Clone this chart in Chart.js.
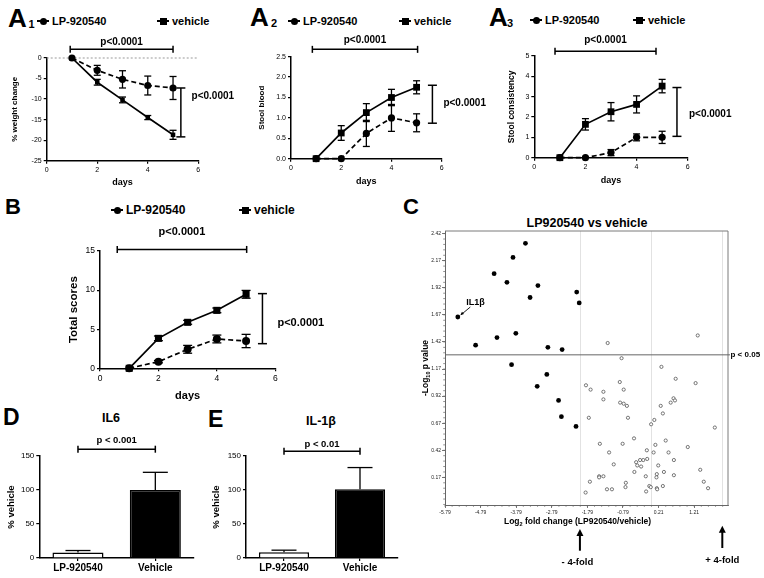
<!DOCTYPE html>
<html>
<head>
<meta charset="utf-8">
<script src="https://cdn.jsdelivr.net/npm/chart.js@4.4.1/dist/chart.umd.min.js"></script>
<style>
html, body { margin: 0; padding: 0; background: #fff; }
body { width: 764px; height: 578px; position: relative; overflow: hidden; font-family: 'Liberation Sans', Arial, Helvetica, sans-serif; color: #000; }
canvas { position: absolute; }
.t { position: absolute; font-weight: bold; white-space: nowrap; line-height: 1; }
.leg { position: absolute; font-weight: bold; white-space: nowrap; line-height: 1; display: flex; align-items: center; }
.mk { position: relative; display: inline-block; width: 12px; height: 2px; background: #000; margin-right: 3px; }
.mk::after { content: ""; position: absolute; left: 50%; top: 50%; width: 7px; height: 7px; margin: -3.5px 0 0 -3.5px; background: #000; }
.mk.c::after { border-radius: 50%; }
</style>
</head>
<body>
<script>
const FONT = "'Liberation Sans', Arial, Helvetica, sans-serif";
Chart.defaults.font.family = FONT;
Chart.defaults.color = '#000';

// ---- data ----
const days = [1, 2, 3, 4, 5];

const weightLP = [0, -3.0, -5.2, -6.7, -7.3];
const weightLPErr = [0, 1.2, 2.1, 2.3, 2.8];
const weightVeh = [0, -5.9, -10.2, -14.5, -18.7];
const weightVehErr = [0, 0.7, 0.7, 0.5, 1.1];

const bloodLP = [0, 0, 0.62, 1.0, 0.88];
const bloodLPErr = [0, 0, 0.32, 0.33, 0.22];
const bloodVeh = [0, 0.63, 1.13, 1.5, 1.75];
const bloodVehErr = [0, 0.18, 0.22, 0.2, 0.16];

const consLP = [0, 0, 0.25, 1.0, 1.0];
const consLPErr = [0, 0, 0.15, 0.17, 0.3];
const consVeh = [0, 1.64, 2.26, 2.62, 3.52];
const consVehErr = [0, 0.28, 0.45, 0.42, 0.33];

const totalLP = [0, 0.85, 2.43, 3.75, 3.49];
const totalLPErr = [0, 0.15, 0.5, 0.5, 0.85];
const totalVeh = [0, 3.83, 5.88, 7.41, 9.46];
const totalVehErr = [0, 0.3, 0.25, 0.3, 0.5];

const cytoGroups = ['LP-920540', 'Vehicle'];
const il6Values = [8, 100];
const il6Errors = [3, 26];
const il1bValues = [8.5, 101];
const il1bErrors = [3, 32];

const volcanoXTicks = [-5.79, -4.79, -3.79, -2.79, -1.79, -0.79, 0.21, 1.21];
const volcanoYTicks = [0.17, 0.42, 0.67, 0.92, 1.17, 1.42, 1.67, 1.92, 2.17, 2.42];
const foldLines = [-2, 0, 2];
const pCut = 1.301;

// filled = changed genes (first one is IL1b)
const sigX = [-5.43, -4.93, -4.33, -3.80, -4.41, -4.05, -3.88, -3.53, -3.18, -3.40,
  -2.90, -2.50, -2.09, -2.02, -3.92, -3.20, -2.93, -2.60, -2.52, -2.11];
const sigY = [1.65, 1.39, 1.46, 1.50, 2.05, 1.97, 2.20, 2.33, 1.94, 1.83,
  1.37, 1.35, 1.88, 1.78, 1.21, 1.01, 1.12, 0.88, 0.73, 0.64];

const nsX = [-1.22, 1.31, -0.83, 0.29, 0.69, 1.25, -1.83, -1.70, -0.88, -0.77,
  -1.34, -1.34, -0.87, -0.77, -0.68, 0.27, 0.55, 0.63, 0.67, 0.33,
  -1.75, -0.65, 0.09, 0.00, 1.79, -0.48, 0.41, -1.44, -0.80, 0.12,
  1.03, -0.12, -1.18, 0.07, 0.49, -0.31, -0.22, -0.11, -0.42, -0.39,
  -0.28, 0.64, -1.05, 0.20, 1.38, -0.47, 0.36, -1.46, -1.46, -1.34,
  -0.15, 0.16, 0.15, 0.64, -1.72, -0.71, 1.48, -0.72, -0.05, -0.01,
  0.16, 0.33, -1.24, -1.10, -0.14, 0.17, 1.60, -1.84];
const nsY = [1.41, 1.48, 1.27, 1.19, 1.08, 1.04, 1.02, 0.98, 1.05, 0.98,
  0.96, 0.89, 0.86, 0.85, 0.83, 0.83, 0.86, 0.90, 0.88, 0.76,
  0.72, 0.72, 0.70, 0.66, 0.63, 0.53, 0.51, 0.48, 0.48, 0.47,
  0.45, 0.42, 0.40, 0.40, 0.40, 0.33, 0.33, 0.34, 0.31, 0.28,
  0.27, 0.33, 0.29, 0.28, 0.24, 0.22, 0.22, 0.18, 0.17, 0.18,
  0.18, 0.20, 0.17, 0.19, 0.13, 0.12, 0.13, 0.08, 0.09, 0.08,
  0.07, 0.09, 0.06, 0.06, 0.04, 0.06, 0.07, 0.03];

// ---- helpers ----
function seg(ctx, x1, y1, x2, y2) {
  ctx.beginPath(); ctx.moveTo(x1, y1); ctx.lineTo(x2, y2); ctx.stroke();
}

function place(html, x, baseline, size, center) {
  const d = document.createElement('div');
  d.className = 't';
  d.style.fontSize = size + 'px';
  d.style.left = x + 'px';
  d.style.top = (baseline - 0.8465 * size) + 'px';
  if (center) d.style.transform = 'translateX(-50%)';
  d.innerHTML = html;
  document.body.appendChild(d);
}

function legendItem(text, x, cy, size, shape) {
  const d = document.createElement('div');
  d.className = 'leg';
  d.style.left = x + 'px';
  d.style.top = (cy - size / 2) + 'px';
  d.style.height = size + 'px';
  d.style.fontSize = size + 'px';
  d.innerHTML = '<span class="mk ' + shape + '"></span>' + text;
  document.body.appendChild(d);
}

function makeCanvas(box) {
  const c = document.createElement('canvas');
  c.width = box[2];
  c.height = box[3];
  c.style.left = box[0] + 'px';
  c.style.top = box[1] + 'px';
  document.body.appendChild(c);
  return c;
}

const errorBars = {
  id: 'errorBars',
  afterDatasetsDraw(chart) {
    const { ctx } = chart;
    const ys = chart.scales.y;
    chart.data.datasets.forEach((ds, i) => {
      if (!ds.errors) return;
      const meta = chart.getDatasetMeta(i);
      ctx.save();
      ctx.strokeStyle = '#000';
      ctx.lineWidth = 1.3;
      meta.data.forEach((pt, j) => {
        const e = ds.errors[j];
        if (!e) return;
        const raw = ds.data[j];
        const v = typeof raw === 'number' ? raw : raw.y;
        const hi = ys.getPixelForValue(v + e);
        const lo = ys.getPixelForValue(ds.upOnly ? v : v - e);
        seg(ctx, pt.x, hi, pt.x, lo);
        seg(ctx, pt.x - ds.cap, hi, pt.x + ds.cap, hi);
        if (!ds.upOnly) seg(ctx, pt.x - ds.cap, lo, pt.x + ds.cap, lo);
      });
      ctx.restore();
    });
  }
};

// significance brackets, in data coordinates
function sigMarks(o) {
  return {
    id: 'sig',
    beforeDatasetsDraw(chart) {
      if (!o.zero) return;
      const { ctx, chartArea: a, scales: { y } } = chart;
      const py = y.getPixelForValue(0);
      ctx.save();
      ctx.strokeStyle = '#9a9a9a';
      ctx.lineWidth = 1;
      ctx.setLineDash([2, 2]);
      seg(ctx, a.left, py, a.right, py);
      ctx.restore();
    },
    afterDraw(chart) {
      const { ctx, scales: { x, y } } = chart;
      ctx.save();
      ctx.strokeStyle = '#000';
      ctx.fillStyle = '#000';
      ctx.lineWidth = 1.5;
      ctx.font = 'bold ' + o.size + 'px ' + FONT;
      ctx.textBaseline = 'alphabetic';
      if (o.top) {
        const p1 = x.getPixelForValue(o.top[0]);
        const p2 = x.getPixelForValue(o.top[1]);
        const py = y.getPixelForValue(o.top[2]);
        seg(ctx, p1, py, p2, py);
        seg(ctx, p1, py - 3.5, p1, py + 3.5);
        seg(ctx, p2, py - 3.5, p2, py + 3.5);
        ctx.textAlign = 'center';
        ctx.fillText(o.text, (p1 + p2) / 2, py + o.topDy);
      }
      if (o.side) {
        const px = x.getPixelForValue(o.side[0]);
        const q1 = y.getPixelForValue(o.side[1]);
        const q2 = y.getPixelForValue(o.side[2]);
        seg(ctx, px, q1, px, q2);
        seg(ctx, px - 4.5, q1, px + 4.5, q1);
        seg(ctx, px - 4.5, q2, px + 4.5, q2);
        ctx.textAlign = 'left';
        ctx.fillText(o.text, px + o.sideDx, (q1 + q2) / 2 + o.sideDy);
      }
      ctx.restore();
    }
  };
}

function axisStyle(size) {
  return {
    grid: { display: true, drawOnChartArea: false, drawTicks: true, tickLength: 3, color: '#000', lineWidth: 1.2 },
    border: { display: true, color: '#000', width: 1.5 },
    ticks: { font: { size: size }, padding: 2, maxRotation: 0, color: '#000' }
  };
}

// line panel: box = canvas rect on page, area = wanted plot rect on page
function linePanel(p) {
  const [bl, bt, bw, bh] = p.box;
  const [al, at, ar, ab] = p.area;
  const xs = axisStyle(p.tick);
  const ysd = axisStyle(p.tick);
  return new Chart(makeCanvas(p.box), {
    type: 'line',
    data: {
      datasets: [
        {
          label: 'LP-920540',
          data: days.map((d, i) => ({ x: d, y: p.lp[i] })),
          errors: p.lpErr, cap: p.cap,
          borderColor: '#000', borderWidth: 1.7, borderDash: [5, 3],
          pointStyle: 'circle', pointRadius: p.dot, pointBorderWidth: 0,
          pointBackgroundColor: '#000', tension: 0, clip: false
        },
        {
          label: 'vehicle',
          data: days.map((d, i) => ({ x: d, y: p.veh[i] })),
          errors: p.vehErr, cap: p.cap,
          borderColor: '#000', borderWidth: 1.7,
          pointStyle: 'rect', pointRadius: p.sq, pointBorderWidth: 0,
          pointBackgroundColor: '#000', tension: 0, clip: false
        }
      ]
    },
    options: {
      responsive: false,
      animation: false,
      devicePixelRatio: 1,
      layout: { padding: { left: 0, top: at - bt, right: bl + bw - ar, bottom: 0 } },
      plugins: { legend: { display: false }, tooltip: { enabled: false } },
      scales: {
        x: {
          type: 'linear', min: 0, max: 6,
          grid: xs.grid, border: xs.border,
          ticks: Object.assign(xs.ticks, { stepSize: 2 }),
          title: {
            display: true, text: 'days',
            font: { size: p.xtSize, weight: 'bold' },
            padding: { top: 0, bottom: bt + bh - p.xtY - p.xtSize * 0.6 }
          },
          afterFit(s) { s.height = bt + bh - ab; s.paddingLeft = 0; s.paddingRight = 0; }
        },
        y: {
          type: 'linear', min: p.yMin, max: p.yMax,
          grid: ysd.grid, border: ysd.border,
          ticks: Object.assign(ysd.ticks, { stepSize: p.yStep, callback: p.fmt }),
          title: {
            display: true, text: p.yTitle,
            font: { size: p.ytSize, weight: 'bold' },
            padding: { top: p.ytX - bl - p.ytSize * 0.6, bottom: 0 }
          },
          afterFit(s) { s.width = al - bl; s.paddingTop = 0; s.paddingBottom = 0; }
        }
      }
    },
    plugins: [errorBars, sigMarks(p.sig)]
  });
}

function barPanel(p) {
  const [bl, bt, bw, bh] = p.box;
  const [al, at, ar, ab] = p.area;
  const xs = axisStyle(10);
  const ysd = axisStyle(8);
  return new Chart(makeCanvas(p.box), {
    type: 'bar',
    data: {
      labels: cytoGroups,
      datasets: [{
        data: p.values, errors: p.errors, upOnly: true, cap: 12.5,
        backgroundColor: ['#fff', '#000'], borderColor: '#000', borderWidth: 1.5,
        barPercentage: 0.66, categoryPercentage: 1
      }]
    },
    options: {
      responsive: false,
      animation: false,
      devicePixelRatio: 1,
      layout: { padding: { left: 0, top: at - bt, right: bl + bw - ar, bottom: 0 } },
      plugins: { legend: { display: false }, tooltip: { enabled: false } },
      scales: {
        x: {
          grid: Object.assign(xs.grid, { offset: false }), border: xs.border,
          ticks: Object.assign(xs.ticks, { font: { size: 10, weight: 'bold' }, padding: 1 }),
          afterFit(s) { s.height = bt + bh - ab; s.paddingLeft = 0; s.paddingRight = 0; }
        },
        y: {
          min: 0, max: 150,
          grid: ysd.grid, border: ysd.border,
          ticks: Object.assign(ysd.ticks, { stepSize: 50 }),
          title: {
            display: true, text: '% vehicle',
            font: { size: 9.5, weight: 'bold' },
            padding: { top: p.ytX - bl - 9.5 * 0.6, bottom: 0 }
          },
          afterFit(s) { s.width = al - bl; s.paddingTop = 0; s.paddingBottom = 0; }
        }
      }
    },
    plugins: [errorBars, sigMarks(p.sig)]
  });
}

// text with subscripts, centred on x at baseline y
function subText(ctx, parts, x, y, size) {
  const big = 'bold ' + size + 'px ' + FONT;
  const small = 'bold ' + (size * 0.65).toFixed(1) + 'px ' + FONT;
  let w = 0;
  parts.forEach(([t, sub]) => { ctx.font = sub ? small : big; w += ctx.measureText(t).width; });
  let cx = x - w / 2;
  ctx.textAlign = 'left';
  parts.forEach(([t, sub]) => {
    ctx.font = sub ? small : big;
    ctx.fillText(t, cx, y + (sub ? size * 0.28 : 0));
    cx += ctx.measureText(t).width;
  });
}

const volcanoDecor = {
  id: 'volcanoDecor',
  beforeDatasetsDraw(chart) {
    const { ctx, chartArea: a, scales: { x, y } } = chart;
    ctx.save();
    ctx.lineWidth = 1;
    ctx.strokeStyle = '#e2e2e2';
    foldLines.forEach(v => {
      const px = Math.round(x.getPixelForValue(v)) + 0.5;
      seg(ctx, px, a.top, px, a.bottom);
    });
    ctx.strokeStyle = '#7a7a7a';
    ctx.beginPath();
    ctx.moveTo(a.left, a.top);
    ctx.lineTo(a.right, a.top);
    ctx.lineTo(a.right, a.bottom);
    ctx.stroke();
    const py = y.getPixelForValue(pCut);
    ctx.strokeStyle = '#666';
    seg(ctx, a.left, py, a.right + 2, py);
    ctx.restore();
  },
  afterDraw(chart) {
    const { ctx, chartArea: a, scales: { x, y } } = chart;
    ctx.save();
    // minor ticks
    ctx.strokeStyle = '#666';
    ctx.lineWidth = 0.7;
    for (let v = volcanoXTicks[0]; v <= x.max + 1e-9; v += 0.2) {
      const px = x.getPixelForValue(v);
      seg(ctx, px, a.bottom, px, a.bottom + 1.8);
    }
    for (let v = volcanoYTicks[0] - 0.25; v <= y.max; v += 0.05) {
      if (v < y.min) continue;
      const py = y.getPixelForValue(v);
      seg(ctx, a.left - 1.8, py, a.left, py);
    }
    ctx.fillStyle = '#000';
    ctx.strokeStyle = '#000';
    ctx.textBaseline = 'alphabetic';

    // axis titles
    subText(ctx, [['Log', false], ['2', true], [' fold change (LP920540/vehicle)', false]], 172.5, 323.5, 8.5);
    ctx.save();
    ctx.translate(20, 168);
    ctx.rotate(-Math.PI / 2);
    subText(ctx, [['-Log', false], ['10', true], [' p value', false]], 0, 3, 8.5);
    ctx.restore();

    // p threshold label
    ctx.font = 'bold 8px ' + FONT;
    ctx.textAlign = 'left';
    ctx.textBaseline = 'middle';
    ctx.fillText('p < 0.05', a.right + 2.5, y.getPixelForValue(pCut));
    ctx.textBaseline = 'alphabetic';

    // fold-change arrows
    ctx.lineWidth = 2;
    [[-2, 350.7, 329, '- 4-fold', 365], [2, 348, 325.7, '+ 4-fold', 362.7]].forEach(([v, y0, tip, txt, base]) => {
      const px = x.getPixelForValue(v);
      seg(ctx, px, y0, px, tip + 5);
      ctx.beginPath();
      ctx.moveTo(px, tip);
      ctx.lineTo(px - 3.5, tip + 7);
      ctx.lineTo(px + 3.5, tip + 7);
      ctx.closePath();
      ctx.fill();
      ctx.font = 'bold 9.5px ' + FONT;
      ctx.textAlign = 'center';
      ctx.fillText(txt, px - (v < 0 ? 2.5 : 0), base);
    });

    // IL1b callout
    const px = x.getPixelForValue(sigX[0]);
    const py = y.getPixelForValue(sigY[0]);
    ctx.font = 'bold 9px ' + FONT;
    ctx.textAlign = 'left';
    ctx.fillText('IL1\u03b2', px + 8.5, py - 12);
    ctx.lineWidth = 0.9;
    seg(ctx, px + 12.5, py - 10, px + 3.5, py - 2.5);
    ctx.beginPath();
    ctx.moveTo(px + 2.5, py - 1.7);
    ctx.lineTo(px + 4.2, py - 5.2);
    ctx.lineTo(px + 6.2, py - 3.0);
    ctx.closePath();
    ctx.fill();
    ctx.restore();
  }
};

// ---- panel letters, legends, titles ----
place('A', 8, 27, 26); place('1', 28.5, 28, 11);
place('A', 250, 26, 26); place('2', 271, 27, 11);
place('A', 489, 26, 26); place('3', 507, 27, 11);
place('B', 5, 215, 22);
place('C', 403, 215, 22);
place('D', 3, 425, 23);
place('E', 208, 427, 23);

legendItem('LP-920540', 37, 21, 11, 'c');
legendItem('vehicle', 157, 21, 11, 's');
legendItem('LP-920540', 288, 21, 11, 'c');
legendItem('vehicle', 399, 21, 11, 's');
legendItem('LP-920540', 530, 20, 11, 'c');
legendItem('vehicle', 633, 20, 11, 's');
legendItem('LP-920540', 111, 210, 12, 'c');
legendItem('vehicle', 239, 210, 12, 's');

place('IL6', 111, 423, 12.5, true);
place('IL-1\u03b2', 321, 426, 12.5, true);
place('LP920540 vs vehicle', 587, 228, 12.5, true);

// ---- charts ----
linePanel({
  box: [0, 30, 250, 165], area: [46.7, 58, 198.3, 160.7],
  lp: weightLP, lpErr: weightLPErr, veh: weightVeh, vehErr: weightVehErr,
  yMin: -25, yMax: 0, yStep: 5, tick: 7, dot: 3.6, sq: 3.2, cap: 3.5,
  yTitle: '% weight change', ytSize: 8, ytX: 15, xtSize: 9, xtY: 182.7,
  sig: { zero: true, size: 10, text: 'p<0.0001', top: [0.93, 5.0, 2.1], topDy: -4.3,
    side: [5.31, -7.3, -19.2], sideDx: 10.7, sideDy: -13.3 }
});

linePanel({
  box: [250, 30, 250, 165], area: [291, 56.7, 441.7, 158.7],
  lp: bloodLP, lpErr: bloodLPErr, veh: bloodVeh, vehErr: bloodVehErr,
  yMin: 0, yMax: 2.5, yStep: 0.5, tick: 7, dot: 3.6, sq: 4.8, cap: 3.5,
  fmt: v => v.toFixed(1),
  yTitle: 'Stool blood', ytSize: 8, ytX: 261.7, xtSize: 9, xtY: 181.7,
  sig: { size: 10, text: 'p<0.0001', top: [0.85, 5.04, 2.68], topDy: -6,
    side: [5.63, 1.8, 0.87], sideDx: 11, sideDy: 2.2 }
});

linePanel({
  box: [500, 30, 264, 165], area: [534.3, 56, 687.7, 157.7],
  lp: consLP, lpErr: consLPErr, veh: consVeh, vehErr: consVehErr,
  yMin: 0, yMax: 5, yStep: 1, tick: 7, dot: 3.6, sq: 4.8, cap: 3.5,
  yTitle: 'Stool consistency', ytSize: 8.5, ytX: 511.7, xtSize: 9, xtY: 181,
  sig: { size: 10, text: 'p<0.0001', top: [0.81, 4.76, 5.23], topDy: -8.6,
    side: [5.58, 3.45, 1.05], sideDx: 12, sideDy: 5 }
});

linePanel({
  box: [0, 225, 340, 178], area: [100, 251, 275.3, 368.3],
  lp: totalLP, lpErr: totalLPErr, veh: totalVeh, vehErr: totalVehErr,
  yMin: 0, yMax: 15, yStep: 5, tick: 8.5, dot: 4, sq: 5, cap: 4.5,
  yTitle: 'Total scores', ytSize: 11.5, ytX: 74, xtSize: 11, xtY: 396,
  sig: { size: 11, text: 'p<0.0001', top: [0.59, 5.02, 15.2], topDy: -14.3,
    side: [5.56, 9.55, 3.15], sideDx: 15, sideDy: 7 }
});

barPanel({
  box: [0, 425, 200, 153], area: [39.3, 456, 194, 558],
  values: il6Values, errors: il6Errors, ytX: 11,
  sig: { size: 9.5, text: 'p < 0.001', top: [0, 1, 160], topDy: -6.3 }
});

barPanel({
  box: [200, 425, 205, 153], area: [246, 456, 398, 558],
  values: il1bValues, errors: il1bErrors, ytX: 216.7,
  sig: { size: 9.5, text: 'p < 0.01', top: [0, 1, 157], topDy: -4.5 }
});

new Chart(makeCanvas([405, 200, 359, 378]), {
  type: 'scatter',
  data: {
    datasets: [
      {
        data: nsX.map((v, i) => ({ x: v, y: nsY[i] })),
        pointRadius: 1.6, pointBackgroundColor: '#fff',
        pointBorderColor: '#555', pointBorderWidth: 0.8, clip: false
      },
      {
        data: sigX.map((v, i) => ({ x: v, y: sigY[i] })),
        pointRadius: 2.4, pointBackgroundColor: '#000',
        pointBorderColor: '#000', pointBorderWidth: 0, clip: false
      }
    ]
  },
  options: {
    responsive: false,
    animation: false,
    devicePixelRatio: 1,
    layout: { padding: { left: 0, top: 31, right: 36, bottom: 0 } },
    plugins: { legend: { display: false }, tooltip: { enabled: false } },
    scales: {
      x: {
        type: 'linear', min: -5.79, max: 2.16,
        afterBuildTicks(s) { s.ticks = volcanoXTicks.map(v => ({ value: v })); },
        ticks: { font: { size: 5 }, padding: 2, maxRotation: 0, autoSkip: false, color: '#222',
          callback: v => v.toFixed(2) },
        grid: { display: true, drawOnChartArea: false, drawTicks: true, tickLength: 3, color: '#555', lineWidth: 0.8 },
        border: { display: true, color: '#666', width: 1 },
        afterFit(s) { s.height = 73; s.paddingLeft = 0; s.paddingRight = 0; }
      },
      y: {
        type: 'linear', min: -0.085, max: 2.444,
        afterBuildTicks(s) { s.ticks = volcanoYTicks.map(v => ({ value: v })); },
        ticks: { font: { size: 5 }, padding: 1, autoSkip: false, color: '#222',
          callback: v => v.toFixed(2) },
        grid: { display: true, drawOnChartArea: false, drawTicks: true, tickLength: 3, color: '#555', lineWidth: 0.8 },
        border: { display: true, color: '#666', width: 1 },
        afterFit(s) { s.width = 40; s.paddingTop = 0; s.paddingBottom = 0; }
      }
    }
  },
  plugins: [volcanoDecor]
});
</script>
</body>
</html>
